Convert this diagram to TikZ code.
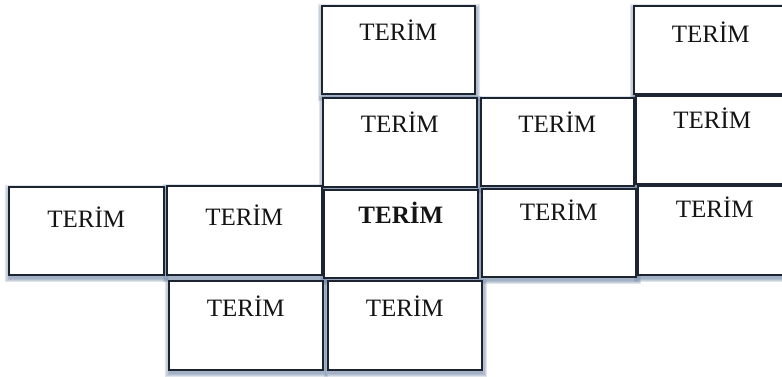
\documentclass[tikz,border=0pt]{standalone}
\usepackage{fontspec}
\setmainfont{Liberation Serif}
\definecolor{edge}{HTML}{1B2430}
\definecolor{shade}{HTML}{6F86A6}
\definecolor{ink}{HTML}{141414}
\pgfdeclarelayer{shadowlayer}
\pgfsetlayers{shadowlayer,main}
\tikzset{
  termbox/.style={draw=edge, line width=1.6pt, fill=white, inner sep=0pt,
    anchor=north west, font=\fontsize{25}{28}\selectfont, text=ink},
  softshade/.style={fill=shade, fill opacity=0.22, draw=none},
}
% soft shadow under a named box (offset down and a little right),
% built from stacked translucent rectangles
\newcommand{\softshadow}[1]{%
  \begin{pgfonlayer}{shadowlayer}
    \foreach \r in {0,1.2,2.4,3.6}{
      \fill[softshade]
        ($(#1.north west)+(0.8-\r,3-\r)$) rectangle
        ($(#1.south east)+(0.8+\r,3+\r)$);
    }
  \end{pgfonlayer}}
% \tbox{name}{left}{top}{right}{bottom}{baseline offset}{text}
\newcommand{\tbox}[7]{%
  \pgfmathsetmacro{\bw}{#4-#2}%
  \pgfmathsetmacro{\bd}{#5-#3-#6}%
  \node[termbox, minimum width=\bw pt, text width=\bw pt, align=center,
        text height=#6pt, text depth=\bd pt] (#1) at (#2,#3) {#7};
  \softshadow{#1}}
\usetikzlibrary{calc}
\begin{document}
\begin{tikzpicture}[x=1pt,y=-1pt]
  \begin{pgfonlayer}{shadowlayer}
    \fill[white] (0,0) rectangle (782,376);
  \end{pgfonlayer}
  \useasboundingbox (0,0) rectangle (782,376);
  \clip (0,0) rectangle (782,376);
  % top row
  \tbox{a}{321}{5}{474}{93}{35}{TERİM}
  \tbox{b}{633}{5}{787}{93}{37}{TERİM}
  % second row
  \tbox{c}{322}{97}{476}{186}{35}{TERİM}
  \tbox{d}{480}{97}{633}{185}{35}{TERİM}
  \tbox{e}{635}{95}{788}{183}{33}{TERİM}
  % third row
  \tbox{f}{8}{186}{163}{274}{41}{TERİM}
  \tbox{g}{166}{185}{321}{274}{40}{TERİM}
  \tbox{h}{323}{189}{477}{277}{34}{\bfseries TERİM}
  \tbox{i}{481}{188}{635}{276}{32}{TERİM}
  \tbox{j}{637}{185}{791}{274}{32}{TERİM}
  % bottom row
  \tbox{k}{168}{280}{322}{369}{36}{TERİM}
  \tbox{l}{327}{280}{481}{369}{36}{TERİM}
\end{tikzpicture}
\end{document}
